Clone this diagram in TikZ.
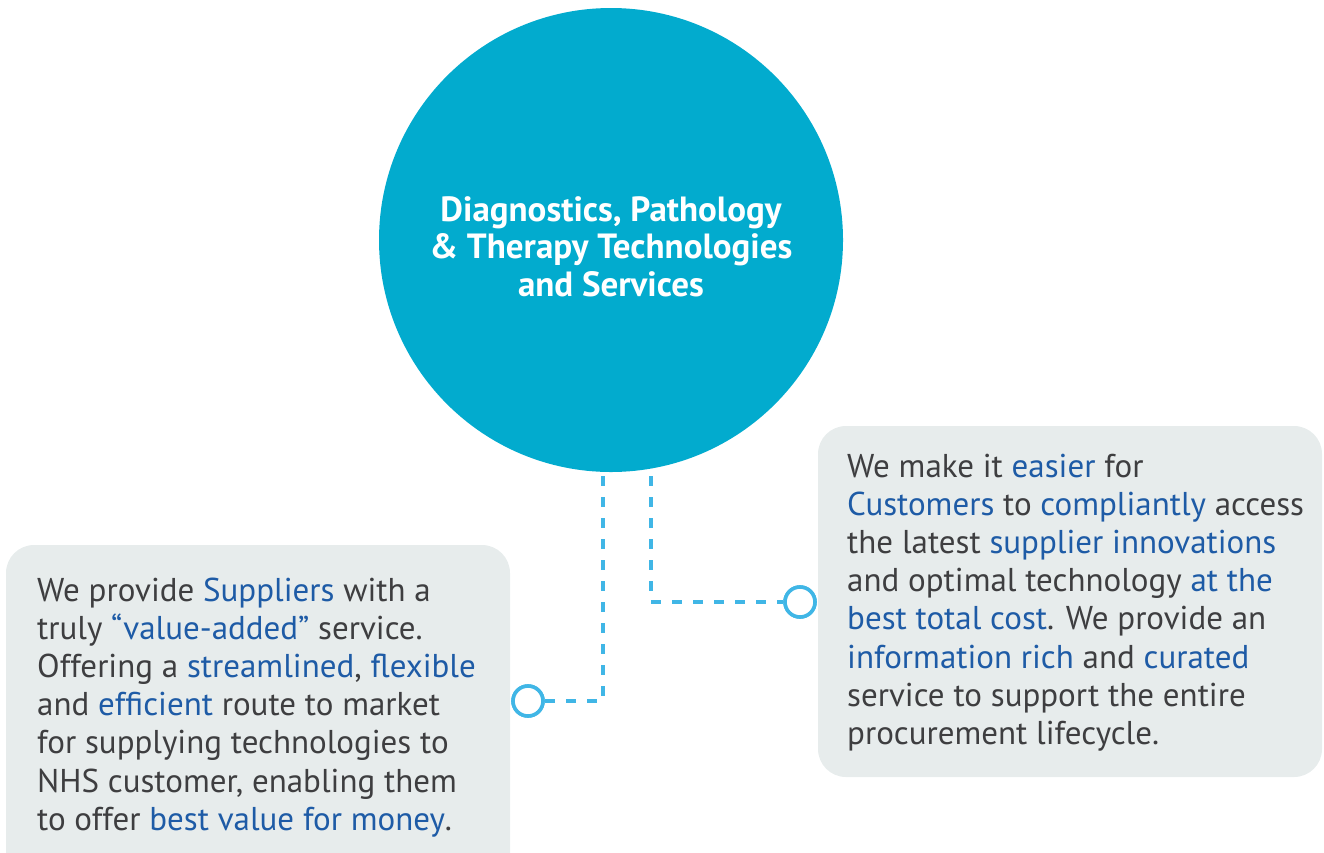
\documentclass[tikz,border=0pt]{standalone}
\usepackage{fontspec}
\setmainfont{PT Sans}
\definecolor{hubblue}{RGB}{2,171,206}
\definecolor{dashblue}{RGB}{64,182,230}
\definecolor{boxgray}{RGB}{231,236,236}
\definecolor{txtgray}{RGB}{62,62,64}
\definecolor{txtblue}{RGB}{30,91,166}
\newcommand\hlb[1]{{\color{txtblue}#1}}
\tikzset{
  infobox/.style={fill=boxgray, rounded corners=28pt, draw=none},
  bodytext/.style={anchor=base west, inner sep=0pt, text=txtgray,
    font=\fontsize{33}{38.2}\selectfont},
  conn/.style={draw=dashblue, line width=3.6pt, dash pattern=on 10pt off 11pt},
  ring/.style={circle, draw=dashblue, line width=3.6pt, fill=white,
    minimum size=30pt, inner sep=0pt}
}
\begin{document}
\begin{tikzpicture}[x=1pt,y=-1pt]
\useasboundingbox (0,0) rectangle (1324,852);
\begin{scope}
\clip (0,0) rectangle (1324,852);
\path[infobox] (6,545) rectangle (510,900);
\node[coordinate] (boxL) at (258,700) {};
\end{scope}
\path[infobox] (818,426) rectangle (1322,777);
\node[coordinate] (boxR) at (1070,600) {};
% connectors (drawn under the hub)
\coordinate (cL) at (603,455);
\coordinate (cR) at (651,455);
\node[ring] (ringL) at (528,701) {};
\node[ring] (ringR) at (800,602) {};
\draw[conn] (cL) |- (ringL);
\draw[conn] (cR) |- (ringR);
\node[ring] at (ringL) {};
\node[ring] at (ringR) {};
% hub
\node[circle, fill=hubblue, minimum size=464pt, inner sep=0pt] (hub) at (611,240) {};
\node[anchor=base, inner sep=0pt, text=white,
  font=\fontsize{35}{37.6}\selectfont\bfseries] (title) at (611,221)
  {\parbox[t]{440pt}{\centering Diagnostics, Pathology\\ \& Therapy Technologies\\ and Services}};
% texts
\node[bodytext] (txtL) at (37,601) {\parbox[t]{470pt}{\raggedright
We provide \hlb{Suppliers} with a\\
truly \hlb{“value-added”} service.\\
Offering a \hlb{streamlined}, \hlb{flexible}\\
and \hlb{efficient} route to market\\
for supplying technologies to\\
NHS customer, enabling them\\
to offer \hlb{best value for money}.}};
\node[bodytext] (txtR) at (847,477) {\parbox[t]{470pt}{\raggedright
We make it \hlb{easier} for\\
\hlb{Customers} to \hlb{compliantly} access\\
the latest \hlb{supplier innovations}\\
and optimal technology \hlb{at the}\\
\hlb{best total cost}. We provide an\\
\hlb{information rich} and \hlb{curated}\\
service to support the entire\\
procurement lifecycle.}};
\end{tikzpicture}
\end{document}
